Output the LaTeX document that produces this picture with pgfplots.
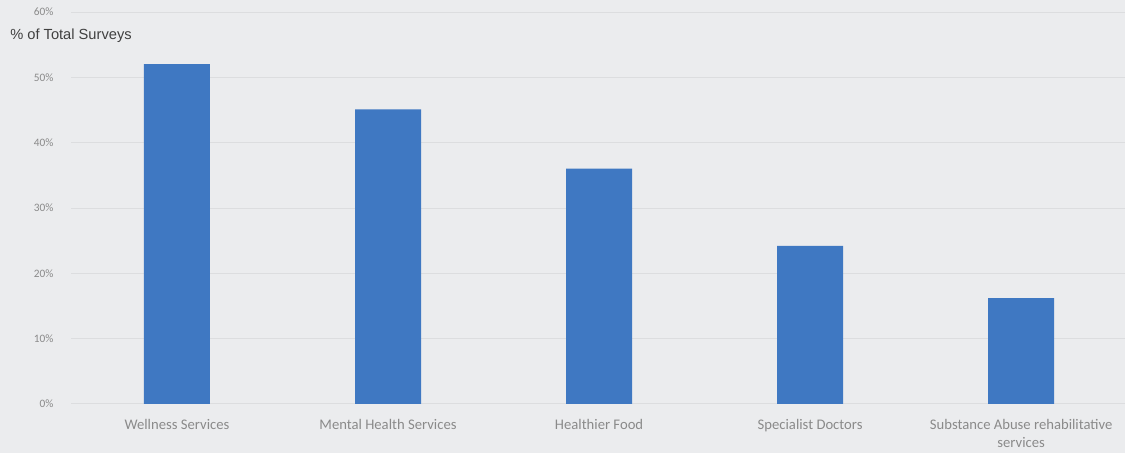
\documentclass[border=0pt]{standalone}
\usepackage{pgfplots}
\pgfplotsset{compat=1.18}
\usepackage{fontspec}
\setmainfont{Carlito}
\newfontfamily\arialf{Liberation Sans}
\definecolor{barblue}{HTML}{3F78C2}
\definecolor{bg}{HTML}{EBECEE}
\definecolor{lbl}{HTML}{8A8A8A}
\definecolor{gridc}{HTML}{DCDDDF}
\begin{document}
\begin{tikzpicture}
\fill[bg] (0,0) rectangle (843.75pt,339.75pt);
\begin{axis}[
  at={(53.6pt,36.75pt)}, anchor=south west,
  scale only axis, width=790.1pt, height=294pt,
  xmin=-0.5, xmax=4.49, ymin=0, ymax=60,
  axis line style={draw=none},
  tick style={draw=none},
  xtick={0,1,2,3,4},
  xticklabels={Wellness Services, Mental Health Services, Healthier Food, Specialist Doctors, {Substance Abuse rehabilitative\\services}},
  xticklabel style={font=\fontsize{11}{13.5}\selectfont, text=lbl, align=center, yshift=-4pt, anchor=north},
  ytick={0,10,...,60},
  yticklabel={\pgfmathprintnumber{\tick}\%},
  yticklabel style={font=\fontsize{8.5}{10}\selectfont, text=lbl, xshift=-10pt},
  /pgf/number format/assume math mode=true,
  ymajorgrids, major grid style={gridc, line width=0.6pt},
  ybar, bar width=49.5pt,
  clip=false,
]
\addplot[fill=barblue, draw=none] coordinates {(0,52) (1,45.1) (2,36) (3,24.2) (4,16.2)};
\end{axis}
\node[anchor=west, font=\arialf\fontsize{11}{12}\selectfont, text=black!75, inner sep=0pt] at (7.5pt,312.75pt) {\% of Total Surveys};
\end{tikzpicture}
\end{document}
